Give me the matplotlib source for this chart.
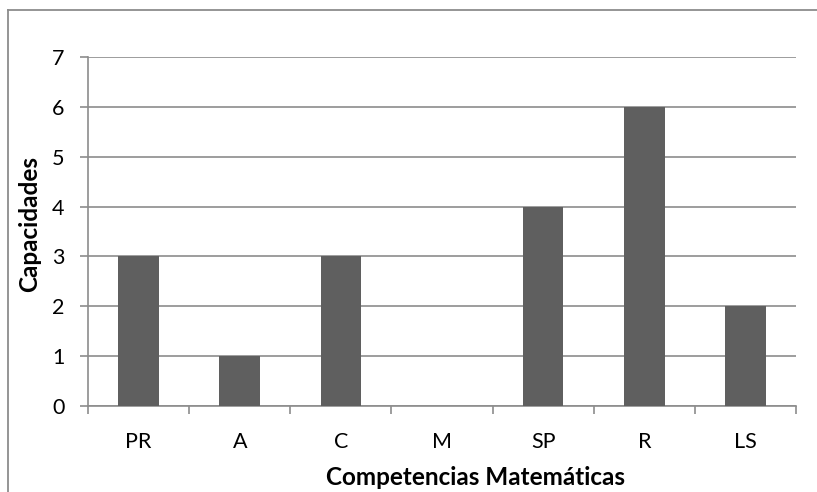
import matplotlib.pyplot as plt
from matplotlib.lines import Line2D

categories = ["PR", "A", "C", "M", "SP", "R", "LS"]
values = [3, 1, 3, 0, 4, 6, 2]
y_ticks = [0, 1, 2, 3, 4, 5, 6, 7]

W, H = 817, 492
grid_color = "#8c8c8c"
bar_color = "#5f5f5f"

plt.rcParams["font.family"] = ["Lato", "DejaVu Sans"]

fig = plt.figure(figsize=(W / 100, H / 100), dpi=100)
ax = fig.add_axes([88 / W, (H - 406) / H, (796 - 88) / W, (406 - 57) / H])

x = range(len(categories))
ax.bar(x, values, width=0.4, color=bar_color, zorder=3)

ax.set_xlim(-0.5, len(categories) - 0.5)
ax.set_ylim(0, 7)
ax.set_yticks(y_ticks)
ax.yaxis.grid(True, color=grid_color, linewidth=1.2, zorder=0)

# category labels at centers, tick marks on the boundaries
ax.set_xticks(list(x))
ax.set_xticklabels(categories)
ax.set_xticks([i - 0.5 for i in range(len(categories) + 1)], minor=True)
ax.tick_params(axis="x", which="major", length=0, pad=19, labelsize=15.5)
ax.tick_params(axis="x", which="minor", length=6, width=1.2, color=grid_color)
ax.tick_params(axis="y", length=6, width=1.2, color=grid_color, labelsize=15.5, pad=11)

for side in ("top", "right"):
    ax.spines[side].set_visible(False)
for side in ("left", "bottom"):
    ax.spines[side].set_color(grid_color)
    ax.spines[side].set_linewidth(1.2)

ax.set_xlabel("Competencias Matemáticas", fontsize=17.5, fontweight="bold",
              ha="center", va="center")
ax.set_ylabel("Capacidades", fontsize=17.5, fontweight="bold",
              ha="center", va="center")
ax.xaxis.set_label_coords(0.547, -0.206)
ax.yaxis.set_label_coords(-0.082, 0.521)

# outer chart frame (left and top edges)
fig.add_artist(Line2D([7.5 / W, 7.5 / W], [0, 1 - 10 / H], transform=fig.transFigure,
                      color=grid_color, linewidth=1.3))
fig.add_artist(Line2D([7.5 / W, 1], [1 - 10 / H, 1 - 10 / H], transform=fig.transFigure,
                      color=grid_color, linewidth=1.3))

fig.savefig("out.png", dpi=100)
